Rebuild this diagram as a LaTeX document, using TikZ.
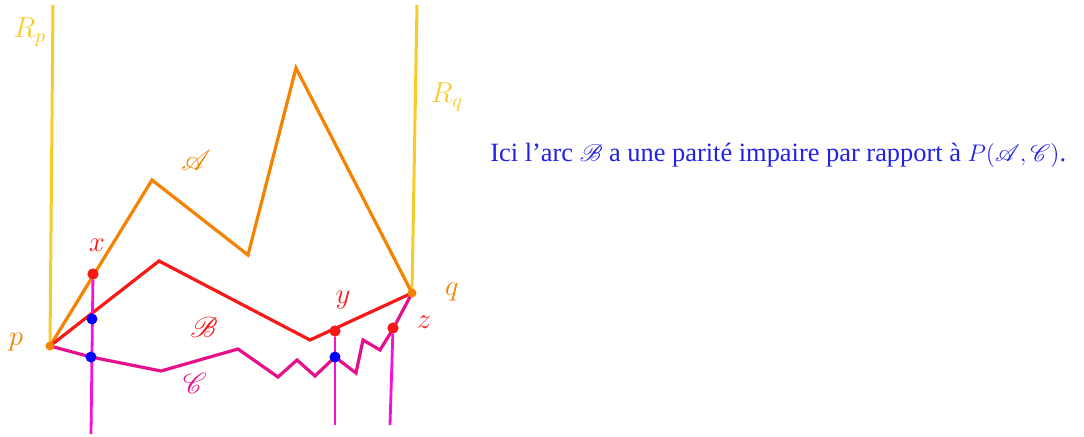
\documentclass[tikz,border=0pt]{standalone}
\usepackage{fontspec}
\setmainfont{Liberation Serif}
\usepackage{mathrsfs}
\usepackage{tikz}
\usetikzlibrary{positioning}
\definecolor{rayyellow}{HTML}{F8CC28}
\definecolor{arcorange}{HTML}{F58200}
\definecolor{arcred}{HTML}{F81818}
\definecolor{arcpink}{HTML}{E4108C}
\definecolor{vertpink}{HTML}{F810D8}
\definecolor{textblue}{HTML}{2020E8}

\begin{document}
\begin{tikzpicture}[x=0.5pt, y=-0.5pt, font=\fontsize{14}{16}\selectfont,
        ray/.style={rayyellow, line width=1.5pt},
        arc/.style={line width=1.6pt, line join=miter},
        vert/.style={vertpink, line width=1.4pt},
        dot/.style={circle, fill=#1, inner sep=0pt, minimum size=5.5pt},
        lbl/.style={inner sep=1pt}]
        \useasboundingbox (0,0) rectangle (1084,436);
        % end points and rays
        \coordinate (p) at (50,346);
        \coordinate (q) at (412,293);
        \coordinate (rptop) at (53,5);
        \coordinate (rqtop) at (417,5);
        \draw[ray] (p) -- (rptop);
        \draw[ray] (q) -- (rqtop);
        % arc A
        \coordinate (a1) at (152,180);
        \coordinate (a2) at (248,255);
        \coordinate (a3) at (296,68);
        \draw[arc, arcorange] (p) -- (a1) -- (a2) -- (a3) -- (q);
        % arc B
        \coordinate (b1) at (159,261);
        \coordinate (b2) at (310,340);
        \draw[arc, arcred] (p) -- (b1) -- (b2) -- (q);
        % arc C
        \coordinate (c1) at (161,371);
        \coordinate (c2) at (238,349);
        \coordinate (c3) at (278,377);
        \coordinate (c4) at (297,360);
        \coordinate (c5) at (315,376);
        \coordinate (c6) at (356,373);
        \coordinate (c7) at (363,340);
        \coordinate (c8) at (380,350);
        \draw[arc, arcpink] (p) -- (91,357) -- (c1) -- (c2) -- (c3) -- (c4) -- (c5)
            -- (335,357) -- (c6) -- (c7) -- (c8) -- (393,329) -- (q);
        % verticals
        \coordinate (xdown) at (91,434);
        \coordinate (ydown) at (335,425);
        \coordinate (zdown) at (390,425);
        \node[dot=arcred] (x) at (93,274) {};
        \node[dot=arcred] (y) at (335,331) {};
        \node[dot=arcred] (z) at (393,328) {};
        \draw[vert] (x) -- (xdown);
        \draw[vert] (y) -- (ydown);
        \draw[vert] (z) -- (zdown);
        \node[dot=arcred] at (x) {};
        \node[dot=arcred] at (y) {};
        \node[dot=arcred] at (z) {};
        \node[dot=blue] (xb) at (92,319) {};
        \node[dot=blue] (xc) at (91,357) {};
        \node[dot=blue] (yc) at (335,357) {};
        \node[dot=arcorange, minimum size=4.5pt] (pdot) at (p) {};
        \node[dot=arcorange, minimum size=4.5pt] (qdot) at (q) {};
        % labels
        \node[lbl, rayyellow] (lrp) at (30,32) {$R_p$};
        \node[lbl, rayyellow] (lrq) at (447,97) {$R_q$};
        \node[lbl, arcorange] (lp) at (16,342) {$p$};
        \node[lbl, arcorange] (lq) at (452,292) {$q$};
        \node[lbl, arcorange] (la) at (196,160) {$\mathscr{A}$};
        \node[lbl, arcred] (lb) at (204,327) {$\mathscr{B}$};
        \node[lbl, arcpink] (lc) at (195,383) {$\mathscr{C}$};
        \node[lbl, arcred] (lx) at (97,245) {$x$};
        \node[lbl, arcred] (ly) at (343,300) {$y$};
        \node[lbl, arcred] (lz) at (424,322) {$z$};
        \node[textblue, anchor=west, inner sep=0pt, font=\fontsize{13.2}{16}\selectfont] (note) at (490,155)
            {Ici l’arc $\mathscr{B}$ a une parité impaire par rapport à $P(\mathscr{A},\mathscr{C})$.};
      \end{tikzpicture}
\end{document}
